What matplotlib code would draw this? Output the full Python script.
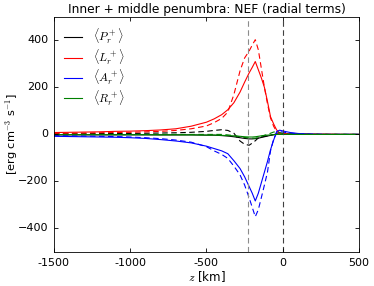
import matplotlib
matplotlib.use("Agg")
import matplotlib.pyplot as plt

plt.style.use('classic')
plt.rcParams['figure.facecolor'] = 'white'
plt.rcParams['savefig.facecolor'] = 'white'

z = [-1500, -1400, -1300, -1200, -1100, -1000, -900, -800, -700, -600,
     -500, -450, -400, -360, -320, -280, -250, -220, -200, -180,
     -160, -140, -120, -100, -80, -60, -40, -20, 0, 20,
     50, 100, 150, 200, 300, 400, 500]

L_solid = [8, 9, 10, 11, 13, 14, 16, 19, 24, 35,
           52, 66, 84, 105, 135, 180, 222, 262, 285, 310,
           275, 240, 200, 140, 75, 45, 19, 6, 4, 3,
           3, 2, 2, 1, 1, 0, 0]
L_dash = [4, 5, 6, 7, 8, 9, 11, 13, 17, 24,
          36, 50, 68, 95, 170, 270, 325, 355, 380, 403,
          360, 280, 200, 130, 70, 35, 12, 4, 3, 2,
          2, 1, 1, 1, 0, 0, 0]
A_solid = [-8, -9, -10, -11, -12, -14, -17, -22, -28, -36,
           -50, -60, -70, -82, -112, -145, -180, -222, -250, -283,
           -250, -205, -160, -115, -65, -25, 12, 18, 15, 12,
           8, 4, 2, 1, 0, 0, 0]
A_dash = [-5, -6, -7, -8, -9, -11, -14, -18, -24, -33,
          -52, -70, -85, -102, -135, -172, -215, -270, -310, -350,
          -320, -268, -215, -160, -70, -20, 5, 12, 10, 8,
          5, 3, 2, 1, 0, 0, 0]
P_solid = [-2, -2, -2, -2, -2, -2, -2, -2, -2, -2,
           -3, -3, -5, -7, -10, -14, -17, -19, -19, -18,
           -16, -13, -10, -7, -4, -1, 2, 3, 3, 2,
           2, 1, 1, 0, 0, 0, 0]
P_dash = [3, 3, 3, 4, 4, 4, 5, 6, 7, 9,
          13, 17, 20, 17, 5, -28, -42, -46, -37, -27,
          -15, -11, -8, -6, -3, -1, 0, 1, 1, 0,
          0, 0, 0, 0, 0, 0, 0]
R_solid = [-1, -1, -1, -1, -1, -1, -1, -2, -2, -2,
           -3, -3, -4, -5, -6, -8, -10, -11, -11, -10,
           -8, -6, -4, -3, -2, -1, 0, 0, 0, 0,
           0, 0, 0, 0, 0, 0, 0]
R_dash = [0, 0, 0, 0, 0, 0, 0, 0, 0, 0,
          0, 0, 0, -2, -5, -10, -13, -15, -16, -16,
          -13, -8, -4, 0, 5, 10, 12, 8, 4, 2,
          1, 0, 0, 0, 0, 0, 0]

labels = [r'$\langle P_r^+\rangle$', r'$\langle L_r^+\rangle$',
          r'$\langle A_r^+\rangle$', r'$\langle R_r^+\rangle$']
title = 'Inner + middle penumbra: NEF (radial terms)'
xticks = [-1500, -1000, -500, 0, 500]
xticklabels = ['-1500', '-1000', '-500', '0', '500']
yticks = [-400, -200, 0, 200, 400]
vlines = [-230, 0]

fig = plt.figure(figsize=(3.74, 2.86), dpi=100)
ax = fig.add_axes([0.144, 0.119, 0.816, 0.822])

series = [(P_solid, P_dash, 'k'), (L_solid, L_dash, 'r'),
          (A_solid, A_dash, 'b'), (R_solid, R_dash, 'g')]
for (s, d, c), lab in zip(series, labels):
    ax.plot(z, s, color=c, lw=0.8, label=lab)
    ax.plot(z, d, color=c, lw=0.8, ls='--', dashes=(4, 2.5))

ax.axvline(vlines[0], color='0.55', lw=0.8, ls='--', dashes=(4, 2.5))
ax.axvline(vlines[1], color='0.25', lw=0.8, ls='--', dashes=(4, 2.5))

ax.set_xlim(-1500, 500)
ax.set_ylim(-500, 500)
ax.set_xticks(xticks)
ax.set_xticklabels(xticklabels)
ax.set_yticks(yticks)
ax.tick_params(labelsize=8, length=3, width=0.6)
for sp in ax.spines.values():
    sp.set_linewidth(0.6)
ax.set_title(title, fontsize=8.8, pad=3)
ax.set_xlabel(r'$z$ [km]', fontsize=8.5, labelpad=1)
ax.set_ylabel(r'[erg cm$^{-3}$ s$^{-1}$]', fontsize=8.2)
ax.yaxis.set_label_coords(-0.112, 0.5)
leg = ax.legend(loc='upper left', frameon=False, fontsize=8.5, handlelength=1.5,
                labelspacing=0.08, handletextpad=1.0, borderaxespad=0.45, numpoints=1)

fig.savefig('out.png', dpi=100)
